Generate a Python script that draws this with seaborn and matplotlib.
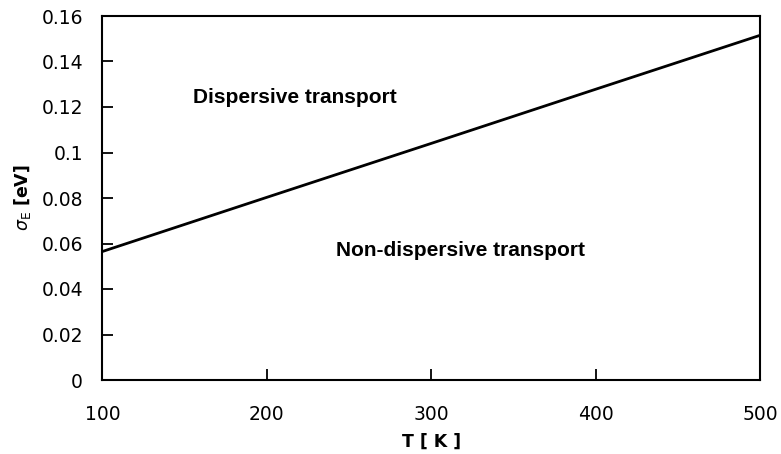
import matplotlib
matplotlib.use("Agg")
import matplotlib.pyplot as plt
import seaborn as sns
import pandas as pd

# Boundary between dispersive and non-dispersive transport
temperature_K = [100, 200, 300, 400, 500]
sigma_E_eV = [0.0565, 0.0803, 0.1040, 0.1278, 0.1515]

x_ticks = [100, 200, 300, 400, 500]
y_ticks = [0, 0.02, 0.04, 0.06, 0.08, 0.1, 0.12, 0.14, 0.16]
y_tick_labels = ["0", "0.02", "0.04", "0.06", "0.08", "0.1", "0.12", "0.14", "0.16"]

sns.set_theme(style="white")
plt.rcParams["font.family"] = ["DejaVu Sans"]
plt.rcParams["text.color"] = "black"
plt.rcParams["axes.labelcolor"] = "black"

df = pd.DataFrame({"T": temperature_K, "sigma": sigma_E_eV})

fig = plt.figure(figsize=(7.81, 4.54), dpi=100)
ax = fig.add_axes([102.5 / 781, (454 - 380) / 454, (760 - 102.5) / 781, (380 - 16) / 454])

sns.lineplot(data=df, x="T", y="sigma", color="black", linewidth=2.0, ax=ax)

ax.set_xlim(100, 500)
ax.set_ylim(0, 0.16)
ax.set_xticks(x_ticks)
ax.set_yticks(y_ticks)
ax.set_yticklabels(y_tick_labels)

for side in ["left", "right", "top", "bottom"]:
    ax.spines[side].set_visible(True)
    ax.spines[side].set_color("black")
    ax.spines[side].set_linewidth(1.5)

ax.tick_params(axis="both", which="major", left=True, bottom=True, top=False, right=False,
               direction="in", length=8, width=1.3, color="black",
               labelsize=13.5, labelcolor="black")
ax.tick_params(axis="y", pad=14)
ax.tick_params(axis="x", pad=18)

ax.set_xlabel("T [ K ]", fontsize=12.5, fontweight="bold", labelpad=6, color="black")
ax.set_ylabel(r"$\sigma_{\rm E}$ [eV]", fontsize=12.5, fontweight="bold",
              labelpad=6, color="black")

ax.text(155, 0.124, "Dispersive transport", fontsize=15, fontweight="bold",
        family="Liberation Sans", ha="left", va="center", color="black")
ax.text(318, 0.057, "Non-dispersive transport", fontsize=15, fontweight="bold",
        family="Liberation Sans", ha="center", va="center", color="black")

fig.savefig("out.png", dpi=100)
